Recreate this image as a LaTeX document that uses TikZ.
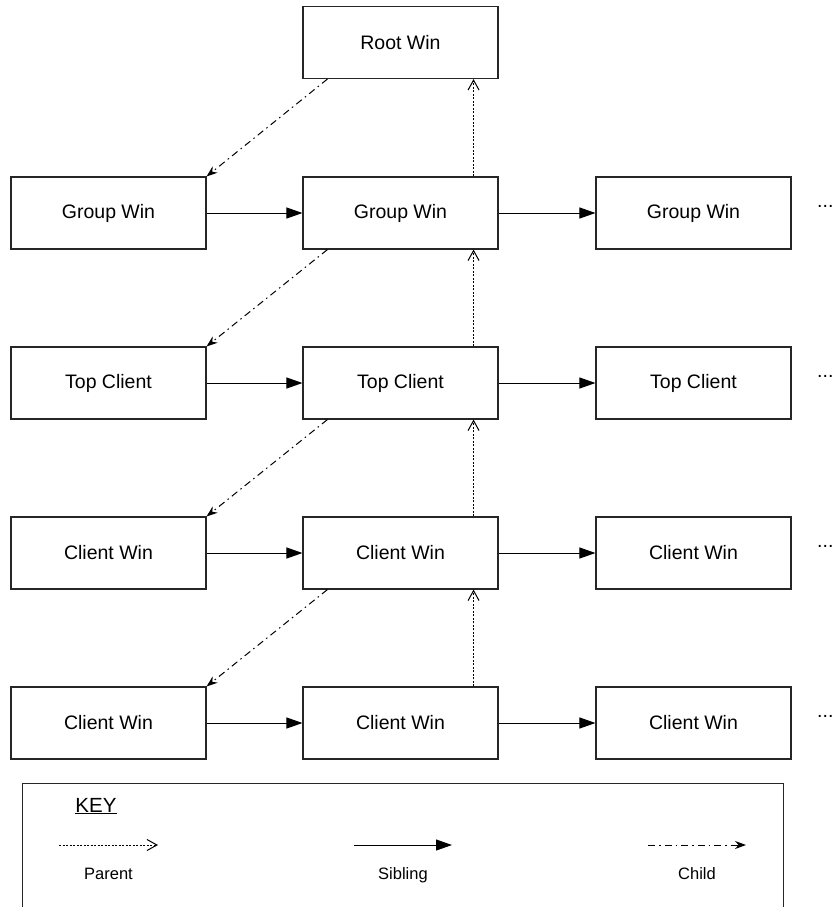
\documentclass[tikz,border=0pt]{standalone}
\usepackage{fontspec}
\setmainfont{Liberation Sans}
\usetikzlibrary{arrows.meta}
\newcommand{\winfont}{\fontsize{19.5}{23}\selectfont}
\newcommand{\keyfont}{\fontsize{16.5}{20}\selectfont}
\tikzset{
  win/.style={draw=black!85, line width=1.1pt, minimum width=195pt,
    minimum height=72pt, inner sep=0pt, font=\winfont},
  sibling/.style={line width=1pt, -{Triangle[length=16pt,width=11pt]}},
  parent/.style={line width=1pt, dash pattern=on 2pt off 1.5pt,
    -{Straight Barb[length=10pt,width=11pt]}},
  child/.style={line width=1pt, dash pattern=on 7pt off 4pt on 1.5pt off 4pt,
    -{Stealth[length=11pt,width=8pt]}},
  more/.style={font=\winfont, anchor=base west, inner sep=0pt},
  keylabel/.style={font=\keyfont, anchor=base},
}
\begin{document}
\begin{tikzpicture}[x=1pt,y=-1pt]
\useasboundingbox (0,0) rectangle (832,907);

% window tree
\node[win] (root) at (400.5,42.5) {Root Win};

\node[win] (g1) at (108.5,213) {Group Win};
\node[win] (g2) at (400.5,213) {Group Win};
\node[win] (g3) at (693.5,213) {Group Win};

\node[win] (t1) at (108.5,383) {Top Client};
\node[win] (t2) at (400.5,383) {Top Client};
\node[win] (t3) at (693.5,383) {Top Client};

\node[win] (c1) at (108.5,553) {Client Win};
\node[win] (c2) at (400.5,553) {Client Win};
\node[win] (c3) at (693.5,553) {Client Win};

\node[win] (d1) at (108.5,723) {Client Win};
\node[win] (d2) at (400.5,723) {Client Win};
\node[win] (d3) at (693.5,723) {Client Win};

% continuation marks
\node[more] (m1) at (817,207) {...};
\node[more] (m2) at (817,377) {...};
\node[more] (m3) at (817,547) {...};
\node[more] (m4) at (817,717) {...};

% sibling links
\foreach \r in {g,t,c,d}{
  \draw[sibling] (\r1) -- (\r2);
  \draw[sibling] (\r2) -- (\r3);
}

% parent links
\draw[parent] ([xshift=-25pt]g2.north east) -- ([xshift=-25pt]root.south east);
\draw[parent] ([xshift=-25pt]t2.north east) -- ([xshift=-25pt]g2.south east);
\draw[parent] ([xshift=-25pt]c2.north east) -- ([xshift=-25pt]t2.south east);
\draw[parent] ([xshift=-25pt]d2.north east) -- ([xshift=-25pt]c2.south east);

% child links
\draw[child] ([xshift=25pt]root.south west) -- (g1.north east);
\draw[child] ([xshift=25pt]g2.south west) -- (t1.north east);
\draw[child] ([xshift=25pt]t2.south west) -- (c1.north east);
\draw[child] ([xshift=25pt]c2.south west) -- (d1.north east);

% key
\node[draw=black!85, line width=1.1pt, minimum width=761pt, minimum height=160pt,
  anchor=north west, inner sep=0pt] (key) at (22,783) {};
\node[font=\fontsize{20.5}{24}\selectfont, anchor=base] (keytitle) at (96,812) {\underline{KEY}};

\coordinate (pa) at (59,845);  \coordinate (pb) at (158,845);
\coordinate (sa) at (354,845); \coordinate (sb) at (452,845);
\coordinate (ca) at (648,845); \coordinate (cb) at (746,845);
\draw[parent] (pa) -- (pb);
\draw[sibling] (sa) -- (sb);
\draw[child] (ca) -- (cb);

\node[keylabel] (lp) at (108.5,879) {Parent};
\node[keylabel] (ls) at (403,879) {Sibling};
\node[keylabel] (lc) at (697,879) {Child};
\end{tikzpicture}
\end{document}
